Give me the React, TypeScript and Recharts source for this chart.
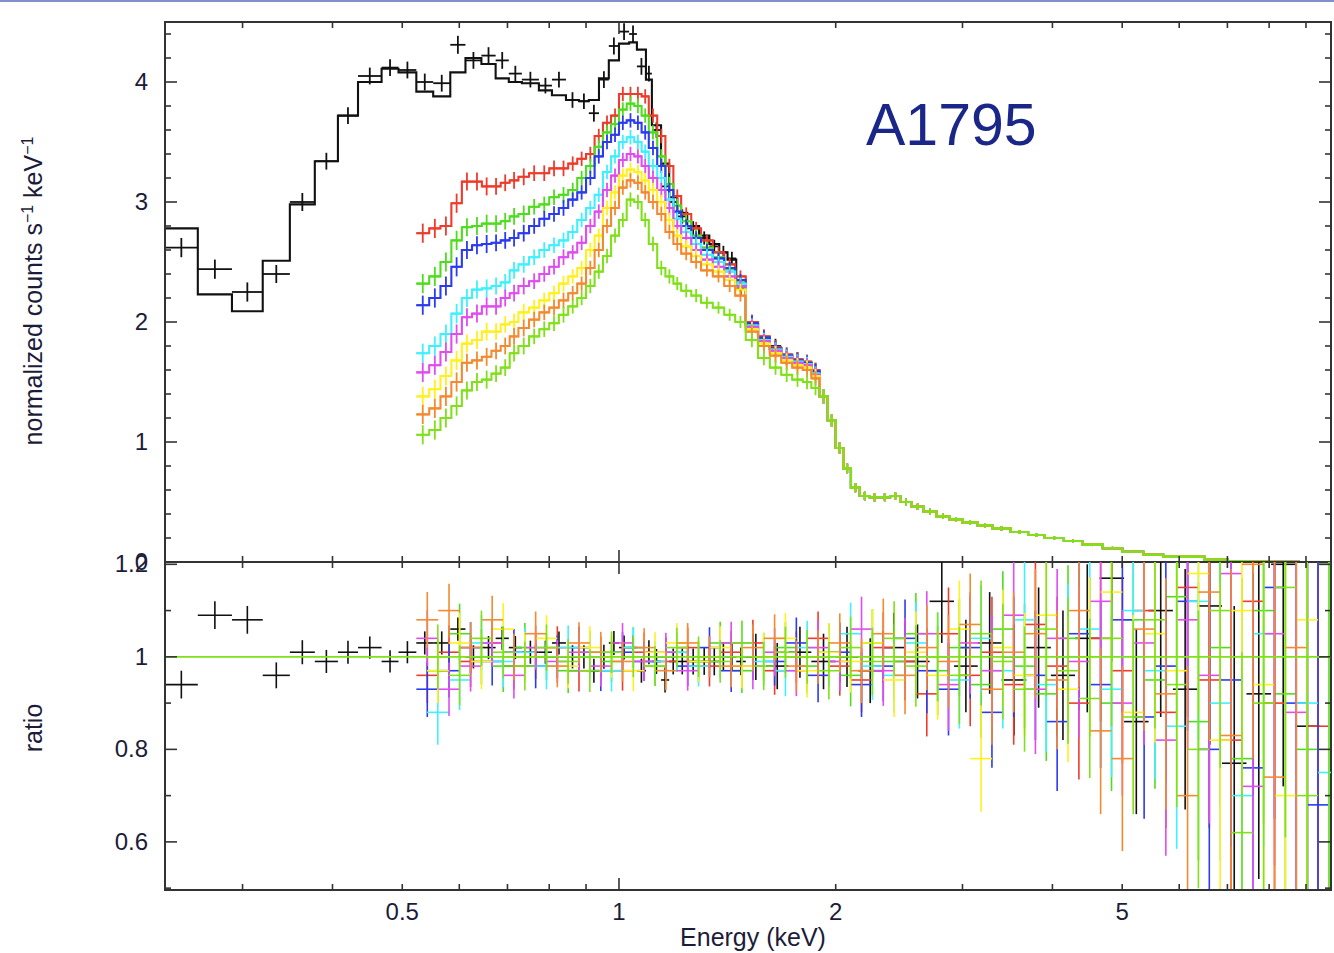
import React from "react";
import { ComposedChart, Line, Scatter, ErrorBar, XAxis, YAxis, ReferenceLine, ReferenceArea } from "recharts";

// ---- black (lowest-energy instrument): bin edges in keV, model, data, errors
const BLACK_EDGES = [
  0.234, 0.26, 0.29, 0.32, 0.349, 0.378, 0.407, 0.434, 0.468, 0.494,
  0.523, 0.552, 0.583, 0.612, 0.644, 0.674, 0.703, 0.733, 0.774, 0.807,
  0.844, 0.88, 0.908, 0.938, 0.968, 1.0, 1.033, 1.059, 1.09, 1.111,
  1.144, 1.174, 1.205, 1.244, 1.292, 1.335, 1.378, 1.415, 1.455, 1.5,
  1.56, 1.62, 1.68, 1.74, 1.8, 1.85, 1.9,
];
const BLACK_MODEL = [
  2.78, 2.23, 2.09, 2.51, 2.98, 3.34, 3.72, 4.0, 4.11, 4.08,
  3.92, 3.88, 4.08, 4.2, 4.15, 4.03, 4.0, 3.99, 3.93, 3.89,
  3.85, 3.84, 3.85, 4.03, 4.18, 4.32, 4.33, 4.27, 4.02, 3.64,
  3.32, 3.04, 2.91, 2.8, 2.72, 2.65, 2.58, 2.52, 2.3,
  1.98, 1.86, 1.78, 1.72, 1.68, 1.66, 1.58,
];
const BLACK_DATA = [
  2.62, 2.44, 2.25, 2.4, 3.0, 3.34, 3.72, 4.05, 4.12, 4.1,
  4.0, 3.99, 4.31, 4.18, 4.22, 4.18, 4.07, 4.02, 3.97, 4.02,
  3.85, 3.84, 3.74, 4.02, 4.3, 4.42, 4.4, 4.13, 4.07, 3.6,
  3.13, 3.0, 2.88, 2.78, 2.7, 2.63, 2.58, 2.53, 2.28,
  2.0, 1.85, 1.8, 1.7, 1.69, 1.65, 1.6,
];
const BLACK_ERR = [
  0.08, 0.08, 0.08, 0.075, 0.075, 0.07, 0.07, 0.07, 0.07, 0.07,
  0.07, 0.07, 0.075, 0.07, 0.07, 0.07, 0.065, 0.065, 0.065, 0.065,
  0.065, 0.065, 0.07, 0.07, 0.07, 0.07, 0.07, 0.07, 0.065, 0.065,
  0.06, 0.06, 0.06, 0.06, 0.055, 0.055, 0.055, 0.055, 0.055,
  0.06, 0.06, 0.06, 0.06, 0.06, 0.06, 0.06,
];
const BLACK_RATIO = [
  0.94, 1.09, 1.08, 0.96, 1.01, 0.99, 1.01, 1.02, 0.99, 1.01,
  1.03, 1.03, 1.06, 1.0, 1.02, 1.04, 1.02, 1.01, 1.01, 1.03,
  1.0, 1.0, 0.97, 1.0, 1.03, 1.02, 1.02, 0.97, 1.01, 0.99,
  0.95, 0.99, 0.99, 0.99, 0.99, 0.99, 1.0, 1.0, 0.99,
];
const BLACK_RATIO_ERR = [
  0.03, 0.03, 0.03, 0.028, 0.026, 0.025, 0.025, 0.024, 0.024, 0.024,
  0.025, 0.025, 0.025, 0.025, 0.025, 0.025, 0.025, 0.025, 0.025, 0.025,
  0.025, 0.025, 0.026, 0.026, 0.026, 0.026, 0.026, 0.026, 0.026, 0.027,
  0.027, 0.028, 0.028, 0.028, 0.029, 0.03, 0.03, 0.03, 0.03,
];
const BLACK_HI_EDGES = [
  1.5, 1.6, 1.72, 1.85, 2.0, 2.15, 2.32, 2.5, 2.7, 2.92, 3.15, 3.4, 3.68,
  3.98, 4.3, 4.65, 5.03, 5.44, 5.88, 6.36, 6.88, 7.44, 8.05, 8.7, 9.4, 10.2,
];
const BLACK_HI_RATIO = [
  1.0, 0.98, 1.01, 0.99, 1.0, 0.97, 1.02, 0.99, 1.12, 0.98, 1.03, 0.95, 1.02,
  0.96, 1.04, 1.17, 0.86, 1.1, 0.93, 1.11, 0.77, 0.92, 1.2, 0.85, 1.0,
];
const BLACK_HI_ERR = [
  0.05, 0.05, 0.055, 0.06, 0.065, 0.07, 0.075, 0.08, 0.09, 0.1, 0.11, 0.12, 0.13,
  0.14, 0.16, 0.18, 0.2, 0.23, 0.26, 0.3, 0.34, 0.4, 0.48, 0.58, 0.7,
];

// ---- coloured instruments, own bins up to 1.9 keV
const COLOR_EDGES = [
  0.523, 0.545, 0.565, 0.585, 0.605, 0.625, 0.645, 0.665, 0.685, 0.705,
  0.725, 0.75, 0.775, 0.8, 0.825, 0.85, 0.875, 0.9, 0.925, 0.95,
  0.975, 1.0, 1.025, 1.05, 1.075, 1.1, 1.13, 1.16, 1.19, 1.22,
  1.26, 1.3, 1.35, 1.4, 1.45, 1.5, 1.56, 1.62, 1.68, 1.74,
  1.8, 1.85, 1.9,
];
const COLOR_ERR = [
  0.08, 0.08, 0.08, 0.08, 0.075, 0.075, 0.075, 0.07, 0.07, 0.07,
  0.07, 0.065, 0.065, 0.065, 0.065, 0.06, 0.06, 0.06, 0.06, 0.06,
  0.06, 0.06, 0.06, 0.06, 0.06, 0.06, 0.06, 0.06, 0.055, 0.055,
  0.055, 0.05, 0.05, 0.05, 0.05, 0.06, 0.06, 0.06, 0.06, 0.06,
  0.06, 0.06,
];
const RED = [
  2.74, 2.78, 2.8, 2.99, 3.17, 3.17, 3.13, 3.13, 3.16, 3.18,
  3.21, 3.24, 3.24, 3.28, 3.28, 3.32, 3.36, 3.4, 3.55, 3.66,
  3.72, 3.9, 3.9, 3.9, 3.88, 3.72, 3.55, 3.3, 3.05, 2.9,
  2.78, 2.68, 2.58, 2.48, 2.38, 2.0, 1.88, 1.79, 1.73, 1.69,
  1.67, 1.6,
];
const GREEN = [
  2.32, 2.38, 2.5, 2.68, 2.79, 2.8, 2.82, 2.82, 2.84, 2.88,
  2.9, 2.96, 2.98, 3.04, 3.06, 3.1, 3.2, 3.3, 3.46, 3.58,
  3.65, 3.77, 3.82, 3.8, 3.72, 3.58, 3.38, 3.15, 2.97, 2.84,
  2.72, 2.62, 2.54, 2.44, 2.33, 1.98, 1.86, 1.78, 1.72, 1.68,
  1.66, 1.58,
];
const BLUE = [
  2.14, 2.2, 2.3, 2.46, 2.6, 2.64, 2.65, 2.66, 2.68, 2.7,
  2.74, 2.8, 2.86, 2.9, 2.95, 3.02, 3.08, 3.2, 3.38, 3.5,
  3.56, 3.66, 3.68, 3.66, 3.58, 3.45, 3.3, 3.1, 2.92, 2.8,
  2.7, 2.6, 2.53, 2.45, 2.35, 1.99, 1.87, 1.78, 1.72, 1.68,
  1.66, 1.59,
];
const CYAN = [
  1.74, 1.8, 1.9, 2.07, 2.2, 2.27, 2.28, 2.3, 2.33, 2.43,
  2.48, 2.54, 2.6, 2.64, 2.68, 2.75, 2.85, 2.95, 3.06, 3.25,
  3.38, 3.5, 3.54, 3.5, 3.42, 3.3, 3.2, 3.02, 2.86, 2.75,
  2.65, 2.56, 2.5, 2.42, 2.32, 1.97, 1.85, 1.77, 1.71, 1.67,
  1.65, 1.57,
];
const MAGENTA = [
  1.58, 1.64, 1.75, 1.9, 2.04, 2.07, 2.13, 2.13, 2.2, 2.24,
  2.3, 2.34, 2.4, 2.46, 2.54, 2.58, 2.66, 2.8, 2.92, 3.1,
  3.22, 3.35, 3.4, 3.38, 3.3, 3.2, 3.1, 2.95, 2.8, 2.7,
  2.6, 2.52, 2.46, 2.38, 2.3, 1.96, 1.84, 1.76, 1.7, 1.66,
  1.64, 1.56,
];
const YELLOW = [
  1.38, 1.44, 1.55, 1.68, 1.82, 1.85, 1.92, 1.92, 1.98, 2.0,
  2.08, 2.12, 2.18, 2.24, 2.32, 2.38, 2.45, 2.6, 2.72, 2.95,
  3.08, 3.22, 3.27, 3.25, 3.18, 3.1, 3.0, 2.85, 2.72, 2.63,
  2.55, 2.48, 2.42, 2.35, 2.27, 1.94, 1.82, 1.74, 1.68, 1.64,
  1.62, 1.55,
];
const ORANGE = [
  1.23, 1.28, 1.38, 1.5, 1.66, 1.68, 1.71, 1.76, 1.8, 1.88,
  1.95, 2.02, 2.08, 2.12, 2.18, 2.24, 2.32, 2.45, 2.6, 2.8,
  2.95, 3.12, 3.18, 3.16, 3.08, 3.0, 2.9, 2.75, 2.65, 2.57,
  2.5, 2.43, 2.38, 2.3, 2.22, 1.92, 1.8, 1.72, 1.66, 1.62,
  1.6, 1.53,
];
const LIME = [
  1.06, 1.1, 1.2, 1.3, 1.43, 1.5, 1.52, 1.57, 1.62, 1.74,
  1.8, 1.88, 1.94, 1.99, 2.06, 2.13, 2.2, 2.3, 2.42, 2.55,
  2.72, 2.85, 3.02, 3.0, 2.85, 2.65, 2.45, 2.38, 2.32, 2.26,
  2.22, 2.16, 2.12, 2.06, 2.0, 1.85, 1.7, 1.62, 1.56, 1.52,
  1.5, 1.45,
];

// ---- common high-energy part above 1.9 keV (all spectra overlap there)
const TAIL_EDGES = [
  1.9, 1.95, 2.0, 2.05, 2.1, 2.16, 2.23, 2.3, 2.38, 2.46,
  2.55, 2.65, 2.76, 2.88, 3.0, 3.15, 3.3, 3.5, 3.7, 3.9,
  4.15, 4.4, 4.7, 5.0, 5.35, 5.7, 6.1, 6.5, 7.0, 7.5,
  8.1, 8.8, 9.6,
];
const TAIL = [
  1.38, 1.18, 0.95, 0.78, 0.62, 0.55, 0.54, 0.54, 0.55, 0.5,
  0.46, 0.42, 0.38, 0.355, 0.33, 0.305, 0.28, 0.25, 0.225, 0.2,
  0.175, 0.145, 0.115, 0.085, 0.06, 0.045, 0.045, 0.02, 0.008, 0.003,
  0.001, 0.0005,
];
const TAIL_ERR = [
  0.06, 0.05, 0.045, 0.04, 0.038, 0.035, 0.035, 0.033, 0.03, 0.028,
  0.026, 0.024, 0.022, 0.02, 0.019, 0.018, 0.017, 0.016, 0.015, 0.014,
  0.013, 0.012, 0.011, 0.01, 0.009, 0.008, 0.007, 0.006, 0.005, 0.004,
  0.003, 0.003,
];

// ---- ratio panel: two interleaved bin grids
const GRID_A = [
  0.523, 0.561, 0.601, 0.644, 0.69, 0.74, 0.793, 0.85, 0.911, 0.977, 1.047,
  1.122, 1.203, 1.29, 1.383, 1.482, 1.589, 1.703, 1.826, 1.957, 2.098, 2.249,
  2.411, 2.585, 2.771, 2.97, 3.184, 3.413, 3.659, 3.922, 4.205, 4.507, 4.832,
  5.18, 5.553, 5.952, 6.381, 6.84, 7.333, 7.861, 8.427, 9.033, 9.684, 10.38,
];
const ERR_A = [
  0.06, 0.058, 0.055, 0.052, 0.05, 0.048, 0.046, 0.045, 0.044, 0.043, 0.042,
  0.042, 0.043, 0.044, 0.046, 0.05, 0.052, 0.055, 0.058, 0.064, 0.07, 0.076,
  0.084, 0.092, 0.1, 0.11, 0.12, 0.13, 0.14, 0.15, 0.165, 0.18, 0.2,
  0.22, 0.25, 0.28, 0.32, 0.36, 0.42, 0.5, 0.58, 0.68, 0.8,
];
const GRID_B = [
  0.541, 0.58, 0.622, 0.667, 0.715, 0.766, 0.821, 0.88, 0.943, 1.011, 1.084,
  1.162, 1.246, 1.335, 1.431, 1.534, 1.645, 1.763, 1.89, 2.026, 2.172, 2.329,
  2.496, 2.676, 2.869, 3.075, 3.297, 3.534, 3.788, 4.061, 4.353, 4.667, 5.003,
  5.363, 5.749, 6.163, 6.606, 7.082, 7.592, 8.138, 8.724, 9.352, 10.03,
];
const ERR_B = [
  0.07, 0.065, 0.06, 0.056, 0.053, 0.05, 0.048, 0.046, 0.045, 0.044,
  0.043, 0.043, 0.044, 0.046, 0.048, 0.052, 0.055, 0.058, 0.062, 0.067,
  0.073, 0.08, 0.088, 0.096, 0.105, 0.115, 0.125, 0.135, 0.145, 0.158,
  0.172, 0.19, 0.21, 0.235, 0.265, 0.3, 0.34, 0.39, 0.46, 0.54,
  0.63, 0.74,
];
const RATIO_RED = [
  0.96, 1.01, 0.99, 1.03, 0.98, 1.0, 1.02, 0.97, 1.0, 0.97,
  1.01, 0.99, 1.02, 0.98, 1.01, 1.03, 0.97, 1.0, 1.04, 0.98,
  0.95, 1.02, 0.99, 0.92, 1.05, 0.96, 1.01, 0.94, 1.07, 0.98,
  0.9, 1.04, 0.97, 1.1, 0.88, 1.15, 0.95, 0.82, 1.12, 0.9,
  1.25, 0.85, 1.0,
];
const RATIO_BLUE = [
  0.93, 0.97, 1.02, 0.99, 1.01, 0.98, 1.0, 1.02, 0.97, 1.01,
  0.99, 1.0, 0.98, 1.02, 0.97, 1.0, 0.99, 1.03, 0.96, 1.01,
  0.94, 0.98, 1.04, 0.97, 0.93, 1.02, 0.88, 1.0, 0.96, 0.86,
  1.05, 0.94, 1.08, 0.87, 0.98, 1.12, 0.8, 0.95, 0.76, 1.15,
  0.9, 0.68, 0.95,
];
const RATIO_MAGENTA = [
  1.04, 0.93, 0.98, 1.03, 0.96, 1.02, 0.99, 1.01, 0.98, 1.03,
  0.99, 1.01, 0.97, 1.0, 1.03, 0.98, 1.01, 0.97, 1.02, 0.99,
  1.06, 0.97, 1.0, 1.05, 0.94, 1.03, 0.97, 1.09, 0.93, 1.04,
  0.99, 1.12, 0.9, 1.03, 0.82, 1.08, 0.96, 1.18, 0.72, 1.05,
  0.88, 1.3, 1.1,
];
const RATIO_ORANGE = [
  1.08, 1.1, 1.02, 1.08, 1.0, 1.05, 0.98, 1.03, 1.01, 0.99,
  1.02, 0.97, 1.03, 1.0, 0.98, 1.02, 1.04, 0.98, 1.0, 1.03,
  0.97, 1.05, 0.96, 1.02, 0.99, 1.07, 0.93, 1.01, 1.05, 0.95,
  1.1, 0.84, 0.78, 1.06, 0.92, 0.7, 1.14, 0.83, 1.2, 0.74,
  1.02, 1.25, 0.86,
];
const RATIO_GREEN = [
  0.97, 1.05, 1.0, 0.98, 1.02, 1.0, 0.97, 1.01, 0.99, 1.02,
  0.98, 1.01, 0.99, 1.03, 0.97, 1.0, 1.02, 0.98, 1.01, 0.96,
  1.03, 0.99, 1.05, 0.97, 1.02, 0.94, 1.06, 0.98, 0.92, 1.04,
  1.0, 0.9, 1.08, 0.95, 1.13, 0.86, 1.02, 0.78, 1.1, 0.92,
  0.8, 1.2,
];
const RATIO_CYAN = [
  0.88, 0.95, 1.03, 0.99, 1.01, 0.98, 1.02, 1.0, 0.97, 1.02,
  0.99, 1.01, 0.98, 1.0, 1.03, 0.99, 0.97, 1.02, 1.0, 1.05,
  0.98, 0.96, 1.03, 1.0, 0.95, 1.04, 0.97, 1.08, 0.94, 1.0,
  1.06, 0.93, 1.1, 0.97, 0.85, 1.12, 0.9, 0.7, 1.05, 1.28,
  0.9, 0.75,
];
const RATIO_YELLOW = [
  0.97, 1.03, 0.99, 1.06, 1.0, 1.04, 0.98, 1.02, 1.0, 0.97,
  1.01, 1.03, 0.99, 1.02, 0.98, 1.0, 1.04, 0.97, 1.01, 0.99,
  1.03, 0.95, 1.01, 0.96, 1.06, 0.78, 1.02, 0.96, 1.09, 0.93,
  1.0, 1.14, 0.88, 1.05, 0.97, 1.18, 0.82, 1.1, 0.94, 0.7,
  1.08, 1.3,
];
const RATIO_LIME = [
  1.0, 0.96, 1.04, 1.01, 0.98, 1.02, 0.99, 0.97, 1.01, 1.0,
  0.98, 1.02, 1.0, 0.99, 1.03, 0.98, 1.01, 1.0, 0.97, 1.02,
  0.99, 1.04, 0.98, 1.0, 0.96, 1.05, 0.99, 0.93, 1.06, 0.97,
  0.91, 1.04, 0.87, 1.08, 0.94, 0.8, 1.1, 0.62, 0.9, 1.15,
  0.7, 1.0,
];

// ---- axes
const X_TICKS = [0.3, 0.4, 0.5, 0.6, 0.7, 0.8, 0.9, 1, 2, 3, 4, 5, 6, 7, 8, 9];
const X_LABELED = [0.5, 1, 2, 5];
const Y_TICKS_TOP = [0, 0.2, 0.4, 0.6, 0.8, 1, 1.2, 1.4, 1.6, 1.8, 2, 2.2, 2.4, 2.6, 2.8, 3, 3.2, 3.4, 3.6, 3.8, 4, 4.2, 4.4];
const Y_LABELED_TOP = [0, 1, 2, 3, 4];
const Y_TICKS_RATIO = [0.5, 0.6, 0.7, 0.8, 0.9, 1, 1.1, 1.2];
const Y_LABELED_RATIO = [0.6, 0.8, 1, 1.2];

const E_MIN = 0.2341;
const E_MAX = 9.75;
const TOP_DOMAIN: [number, number] = [0, 4.5];
const RATIO_DOMAIN: [number, number] = [0.496, 1.205];
const PLOT_W = 1166;
const TOP_H = 540;
const RATIO_H = 328;

const FONT = "'Liberation Sans', Arial, Helvetica, sans-serif";
const INK = "#1c1c3a";
const FRAME = "#333";

const C = {
  black: "#111111",
  red: "#ee3b2b",
  green: "#4fdc1f",
  blue: "#2b3bef",
  cyan: "#3ff0ff",
  magenta: "#e04cf0",
  yellow: "#fff01e",
  orange: "#f48a30",
  lime: "#80e01a",
};

type Pt = { x: number; y: number; ex: [number, number]; ey: [number, number] };

// one cross per bin, error bars cut at the panel edges
function crosses(edges: number[], vals: number[], errs: number[], dom: [number, number]): Pt[] {
  const out: Pt[] = [];
  vals.forEach((v, i) => {
    const lo = Math.max(edges[i], E_MIN);
    const hi = Math.min(edges[i + 1], E_MAX);
    const c = Math.sqrt(edges[i] * edges[i + 1]);
    if (c >= E_MAX || v < dom[0] || v > dom[1]) return;
    out.push({
      x: c,
      y: v,
      ex: [c - lo, hi - c],
      ey: [Math.min(errs[i], v - dom[0]), Math.min(errs[i], dom[1] - v)],
    });
  });
  return out;
}

function steps(edges: number[], vals: number[]) {
  const pts = vals.map((v, i) => ({ x: edges[i], y: v }));
  pts.push({ x: edges[vals.length], y: vals[vals.length - 1] });
  return pts;
}

const TOP_COLOR_EDGES = [...COLOR_EDGES, ...TAIL_EDGES.slice(1)];
const TOP_COLOR_ERR = [...COLOR_ERR, ...TAIL_ERR];
const TOP_BLACK_EDGES = [...BLACK_EDGES, ...TAIL_EDGES.slice(1)];

const COLORED = [
  { id: "red", color: C.red, counts: RED, ratio: RATIO_RED, grid: GRID_A, err: ERR_A },
  { id: "green", color: C.green, counts: GREEN, ratio: RATIO_GREEN, grid: GRID_B, err: ERR_B },
  { id: "blue", color: C.blue, counts: BLUE, ratio: RATIO_BLUE, grid: GRID_A, err: ERR_A },
  { id: "cyan", color: C.cyan, counts: CYAN, ratio: RATIO_CYAN, grid: GRID_B, err: ERR_B },
  { id: "magenta", color: C.magenta, counts: MAGENTA, ratio: RATIO_MAGENTA, grid: GRID_A, err: ERR_A },
  { id: "yellow", color: C.yellow, counts: YELLOW, ratio: RATIO_YELLOW, grid: GRID_B, err: ERR_B },
  { id: "orange", color: C.orange, counts: ORANGE, ratio: RATIO_ORANGE, grid: GRID_A, err: ERR_A },
  { id: "lime", color: C.lime, counts: LIME, ratio: RATIO_LIME, grid: GRID_B, err: ERR_B },
];

const noMarker = () => <g />;

// tickSize/tickMargin are 0, so (x, y) is on the axis line; the mirrored
// ticks on the opposite side of the box are drawn from the same tick
const xTick = (plotH: number, withLabel: boolean) => (p: any) => {
  const v = p.payload.value;
  const len = v === 1 ? 12 : 6;
  const top = p.y - plotH;
  return (
    <g>
      <line x1={p.x} x2={p.x} y1={p.y} y2={p.y - len} stroke={FRAME} strokeWidth={1.6} />
      <line x1={p.x} x2={p.x} y1={top} y2={top + len} stroke={FRAME} strokeWidth={1.6} />
      {withLabel && X_LABELED.includes(v) && (
        <text x={p.x} y={p.y + 30} textAnchor="middle" fontSize={24} fontFamily={FONT} fill={INK}>
          {String(v)}
        </text>
      )}
    </g>
  );
};

const yTick = (labeled: number[]) => (p: any) => {
  const v = p.payload.value;
  const len = labeled.includes(v) ? 12 : 6;
  const right = p.x + PLOT_W;
  return (
    <g>
      <line x1={p.x} x2={p.x + len} y1={p.y} y2={p.y} stroke={FRAME} strokeWidth={1.6} />
      <line x1={right} x2={right - len} y1={p.y} y2={p.y} stroke={FRAME} strokeWidth={1.6} />
      {labeled.includes(v) && (
        <text x={p.x - 17} y={p.y + 8} textAnchor="end" fontSize={24} fontFamily={FONT} fill={INK}>
          {String(v)}
        </text>
      )}
    </g>
  );
};

function frameAxes(dom: [number, number], yTicks: number[], yLabeled: number[], plotH: number, bottomLabels: boolean) {
  const axisLine = { stroke: FRAME, strokeWidth: 2 };
  return [
    <XAxis
      key="xb"
      xAxisId="b"
      dataKey="x"
      type="number"
      scale="log"
      domain={[E_MIN, E_MAX]}
      allowDataOverflow
      ticks={X_TICKS}
      interval={0}
      height={1}
      tickSize={0}
      tickMargin={0}
      tickLine={false}
      axisLine={axisLine}
      tick={xTick(plotH, bottomLabels)}
    />,
    <YAxis
      key="yl"
      yAxisId="l"
      dataKey="y"
      type="number"
      domain={dom}
      allowDataOverflow
      ticks={yTicks}
      interval={0}
      width={60}
      tickSize={0}
      tickMargin={0}
      tickLine={false}
      axisLine={axisLine}
      tick={yTick(yLabeled)}
    />,
  ];
}

function frameBox(dom: [number, number]) {
  return (
    <ReferenceArea
      xAxisId="b"
      yAxisId="l"
      x1={E_MIN}
      x2={E_MAX}
      y1={dom[0]}
      y2={dom[1]}
      fill="none"
      stroke={FRAME}
      strokeWidth={2}
      ifOverflow="visible"
    />
  );
}

function crossSeries(key: string, data: Pt[], color: string, width: number) {
  return (
    <Scatter key={key} xAxisId="b" yAxisId="l" data={data} dataKey="y" shape={noMarker} isAnimationActive={false}>
      <ErrorBar dataKey="ex" direction="x" width={0} stroke={color} strokeWidth={width} isAnimationActive={false} />
      <ErrorBar dataKey="ey" direction="y" width={0} stroke={color} strokeWidth={width} isAnimationActive={false} />
    </Scatter>
  );
}

function stepSeries(key: string, data: { x: number; y: number }[], color: string) {
  return (
    <Line
      key={key}
      xAxisId="b"
      yAxisId="l"
      data={data}
      dataKey="y"
      type="stepAfter"
      stroke={color}
      strokeWidth={2.1}
      dot={false}
      activeDot={false}
      isAnimationActive={false}
    />
  );
}

export default function App() {
  const blackTopData = crosses(TOP_BLACK_EDGES, [...BLACK_DATA, ...TAIL], [...BLACK_ERR, ...TAIL_ERR], TOP_DOMAIN);
  const blackModel = steps(TOP_BLACK_EDGES, [...BLACK_MODEL, ...TAIL]);
  const blackRatio = crosses(
    [...BLACK_EDGES.slice(0, BLACK_RATIO.length + 1), ...BLACK_HI_EDGES.slice(1)],
    [...BLACK_RATIO, ...BLACK_HI_RATIO],
    [...BLACK_RATIO_ERR, ...BLACK_HI_ERR],
    RATIO_DOMAIN
  );

  return (
    <div style={{ position: "absolute", left: 0, top: 0, width: 1334, height: 953, background: "#fff", overflow: "hidden" }}>
      <div style={{ position: "absolute", left: 0, top: 0, width: 1334, height: 2, background: "#8190cc" }} />

      <div style={{ position: "absolute", left: 0, top: 0 }}>
        <ComposedChart width={1334} height={600} margin={{ top: 22, right: 3, bottom: 37, left: 105 }}>
          {frameAxes(TOP_DOMAIN, Y_TICKS_TOP, Y_LABELED_TOP, TOP_H, false)}
          {stepSeries("bm", blackModel, C.black)}
          {crossSeries("bd", blackTopData, C.black, 1.8)}
          {COLORED.flatMap((s) => {
            const vals = [...s.counts, ...TAIL];
            return [
              stepSeries(s.id + "m", steps(TOP_COLOR_EDGES, vals), s.color),
              crossSeries(s.id + "d", crosses(TOP_COLOR_EDGES, vals, TOP_COLOR_ERR, TOP_DOMAIN), s.color, 1.8),
            ];
          })}
          {frameBox(TOP_DOMAIN)}
        </ComposedChart>
      </div>

      <div style={{ position: "absolute", left: 0, top: 540 }}>
        <ComposedChart width={1334} height={413} margin={{ top: 22, right: 3, bottom: 62, left: 105 }}>
          {frameAxes(RATIO_DOMAIN, Y_TICKS_RATIO, Y_LABELED_RATIO, RATIO_H, true)}
          {crossSeries("br", blackRatio, C.black, 1.6)}
          {COLORED.map((s) => crossSeries(s.id + "r", crosses(s.grid, s.ratio, s.err, RATIO_DOMAIN), s.color, 1.6))}
          <ReferenceLine xAxisId="b" yAxisId="l" y={1} stroke={C.lime} strokeWidth={1.8} />
          {frameBox(RATIO_DOMAIN)}
        </ComposedChart>
      </div>

      <svg width={1334} height={953} style={{ position: "absolute", left: 0, top: 0, pointerEvents: "none" }}>
        <text x={866} y={145} fontSize={59} fontFamily={FONT} fill="#1a2688">
          A1795
        </text>
        <text x={753} y={946} textAnchor="middle" fontSize={25} fontFamily={FONT} fill={INK}>
          Energy (keV)
        </text>
        <text transform="translate(42 291) rotate(-90)" textAnchor="middle" fontSize={25} fontFamily={FONT} fill={INK}>
          normalized counts s<tspan dy={-9} fontSize={16}>−1</tspan>
          <tspan dy={9}> keV</tspan>
          <tspan dy={-9} fontSize={16}>−1</tspan>
        </text>
        <text transform="translate(42 728) rotate(-90)" textAnchor="middle" fontSize={25} fontFamily={FONT} fill={INK}>
          ratio
        </text>
      </svg>
    </div>
  );
}
